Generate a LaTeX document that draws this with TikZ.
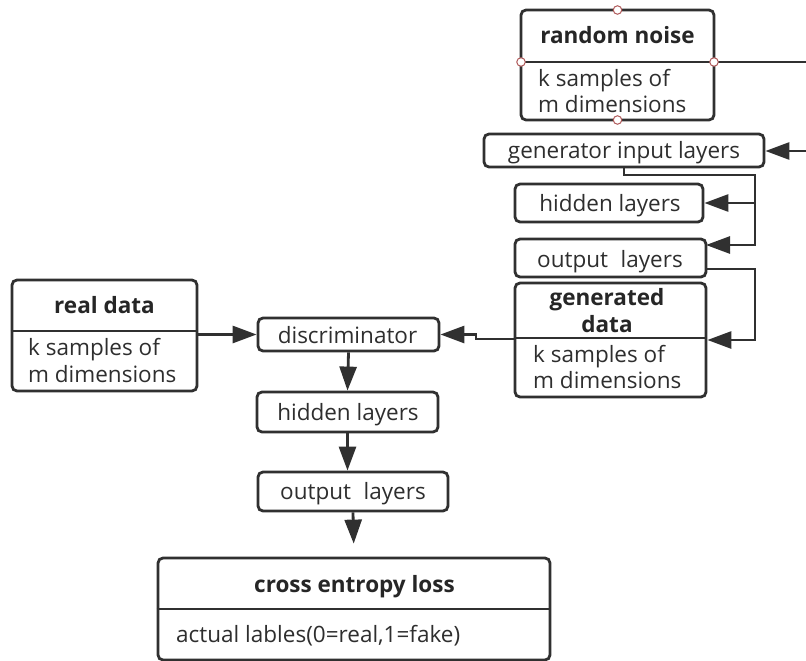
\documentclass[tikz,border=0pt]{standalone}
\usepackage{fontspec}
\setmainfont{Open Sans}
\usetikzlibrary{arrows.meta}
\definecolor{ln}{HTML}{303030}
\definecolor{txtc}{HTML}{2E2E2E}
\definecolor{ttlc}{HTML}{262626}
\definecolor{handlered}{HTML}{B05A5A}
\tikzset{
  box/.style={draw=ln, line width=2.8pt, rounded corners=5pt, fill=white, inner sep=0pt},
  conn/.style={draw=ln, line width=2.8pt},
  arr/.style={conn, -{Triangle[length=24pt,width=17pt]}},
  handle/.style={circle, draw=handlered, fill=white, line width=1pt, minimum size=8.5pt, inner sep=0pt},
  txt/.style={font=\fontsize{22.5}{27}\selectfont, text=txtc, inner sep=0pt},
  ttl/.style={font=\fontsize{22.5}{27}\selectfont\bfseries, text=ttlc, inner sep=0pt},
  divline/.style={draw=ln, line width=2.8pt},
}
\begin{document}
\begin{tikzpicture}[x=1pt,y=-1pt]
\useasboundingbox (0,0) rectangle (806,661);
% ---------- boxes ----------
\node[box, minimum width=193pt, minimum height=110pt] (noise) at (617.5,65) {};
\node[box, minimum width=280pt, minimum height=33pt] (ginput) at (624,150.5) {};
\node[box, minimum width=188pt, minimum height=38pt] (ghidden) at (609,203) {};
\node[box, minimum width=191pt, minimum height=38pt] (gout) at (610.5,258) {};
\node[box, minimum width=191pt, minimum height=114pt] (gen) at (610.5,340) {};
\node[box, minimum width=185pt, minimum height=111pt] (real) at (104.5,335.5) {};
\node[box, minimum width=181pt, minimum height=33pt] (disc) at (348.5,334.5) {};
\node[box, minimum width=181pt, minimum height=40pt] (dhidden) at (347.5,412) {};
\node[box, minimum width=190pt, minimum height=39pt] (dout) at (353,491.5) {};
\node[box, minimum width=392pt, minimum height=102pt] (loss) at (354,609) {};
% ---------- dividers ----------
\draw[divline] (noise.west |- 0,62) -- (noise.east |- 0,62);
\draw[divline] (gen.west |- 0,338) -- (gen.east |- 0,338);
\draw[divline] (real.west |- 0,331) -- (real.east |- 0,331);
\draw[divline] (loss.west |- 0,609) -- (loss.east |- 0,609);
% ---------- texts ----------
\node[ttl, anchor=base] (tnoise) at (617.5,44) {random noise};
\node[txt, anchor=base west] (bnoise1) at (538,87) {k samples of};
\node[txt, anchor=base west] (bnoise2) at (538,112) {m dimensions};
\node[txt, anchor=base] (tginput) at (624,158) {generator input layers};
\node[txt, anchor=base] (tghidden) at (610,211) {hidden layers};
\node[txt, anchor=base] (tgout) at (610,267) {output\hspace{0.3em} layers};
\node[ttl, anchor=base] (tgen1) at (607,305) {generated};
\node[ttl, anchor=base] (tgen2) at (607,332) {data};
\node[txt, anchor=base west] (bgen1) at (533,362) {k samples of};
\node[txt, anchor=base west] (bgen2) at (533,388) {m dimensions};
\node[ttl, anchor=base] (treal) at (104.5,313) {real data};
\node[txt, anchor=base west] (breal1) at (28,355) {k samples of};
\node[txt, anchor=base west] (breal2) at (28,382) {m dimensions};
\node[txt, anchor=base] (tdisc) at (347.5,343) {discriminator};
\node[txt, anchor=base] (tdhidden) at (348,420) {hidden layers};
\node[txt, anchor=base] (tdout) at (353,499) {output\hspace{0.3em} layers};
\node[ttl, anchor=base] (tloss) at (354.5,592) {cross entropy loss};
\node[txt, anchor=base west] (bloss) at (176,642) {actual lables(0=real,1=fake)};
% ---------- free coordinates ----------
\coordinate (nr) at (806,62);
\coordinate (gr) at (806,151);
\coordinate (bus) at (755,175);
\coordinate (goin) at (706,245);
\coordinate (goout) at (706,269);
\coordinate (jog) at (476,339);
% ---------- connectors ----------
\draw[conn] (noise.east |- nr) -- (nr);
\draw[arr] (gr) -- (ginput.east |- gr);
\draw[arr] (ginput.south) |- (bus) |- (goin);
\draw[arr] (bus |- ghidden.east) -- (ghidden.east);
\draw[arr] (goout) -| (bus |- gen.east) -- (gen.east);
\draw[arr] (gen.west |- jog) -- (jog) -- (jog |- disc.east) -- (disc.east);
\draw[arr] (real.east |- disc.west) -- (disc.west);
\draw[arr] (disc.south) -- (dhidden.north);
\draw[arr] (dhidden.south) -- (dhidden.south |- dout.north);
\draw[arr, shorten >=13pt] (dout.south) -- (loss.north);
% ---------- selection handles ----------
\node[handle] (h1) at (617.5,10) {};
\node[handle] (h2) at (521,62) {};
\node[handle] (h3) at (714,62) {};
\node[handle] (h4) at (617.5,120) {};
\end{tikzpicture}
\end{document}
